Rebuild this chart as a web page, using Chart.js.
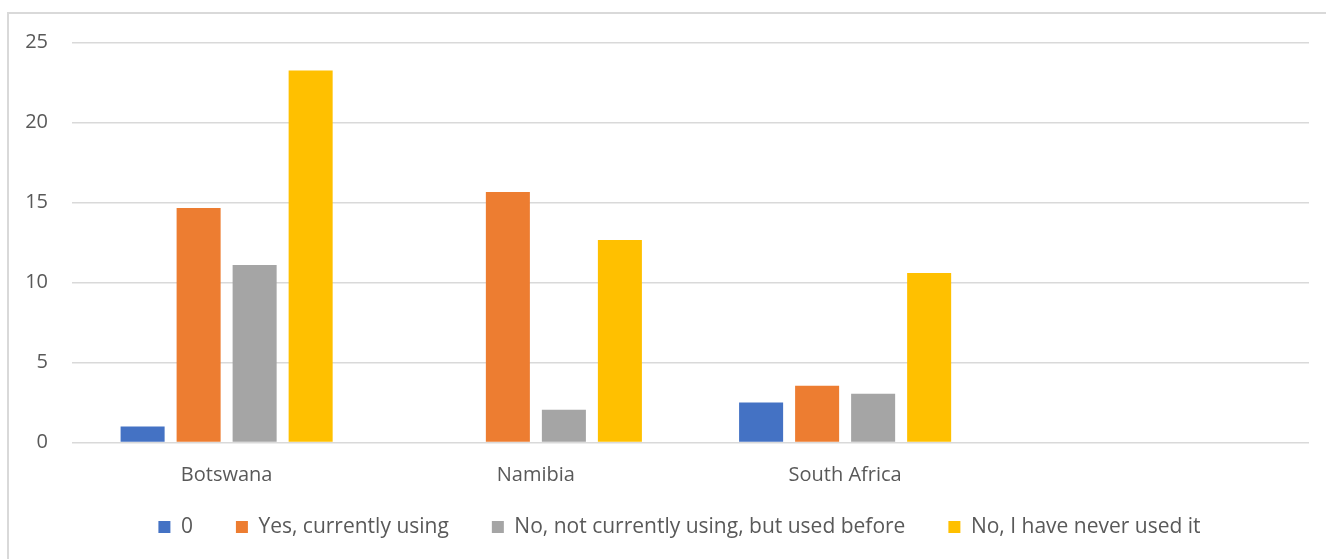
<!DOCTYPE html>
<html>
<head>
<meta charset="utf-8">
<script src="https://cdn.jsdelivr.net/npm/chart.js@4/dist/chart.umd.min.js"></script>
<style>
  html, body { margin: 0; padding: 0; background: #fff; overflow: hidden; }
  #frame {
    position: absolute; left: 7px; top: 12px;
    width: 1400px; height: 700px;
    border: 2px solid #d9d9d9; box-sizing: border-box;
  }
  #grafico { position: absolute; left: 0; top: 0; }
</style>
</head>
<body>
<div id="frame"></div>
<canvas id="grafico" width="1326" height="559"></canvas>
<script>
// Países (a quarta categoria fica vazia)
const paises = ['Botswana', 'Namibia', 'South Africa', ''];

// Respostas por país
const serieZero = [1, 0, 2.5, null];
const serieUsandoAgora = [14.65, 15.65, 3.55, null];
const serieUsouAntes = [11.1, 2.05, 3.05, null];
const serieNuncaUsou = [23.25, 12.65, 10.6, null];

const nomesSeries = [
  '0',
  'Yes, currently using',
  'No, not currently using, but used before',
  'No, I have never used it'
];
const cores = ['#4472C4', '#ED7D31', '#A5A5A5', '#FFC000'];

const ticksY = { min: 0, max: 25, passo: 5 };

const corTexto = '#595959';
const familia = "'Open Sans', 'Noto Sans', sans-serif";
const fonteEixo = { family: familia, size: 20 };
const fonteLegenda = { family: familia, size: 21 };

const valores = [serieZero, serieUsandoAgora, serieUsouAntes, serieNuncaUsou];

const datasets = valores.map((dados, i) => ({
  label: nomesSeries[i],
  data: dados,
  backgroundColor: cores[i],
  borderWidth: 0,
  categoryPercentage: 0.7245,
  barPercentage: 0.786
}));

// Ajusta a legenda depois do layout: desloca para a direita e
// libera espaço para os rótulos do eixo x (que são recortados pela caixa do eixo)
const ajusteLegenda = {
  id: 'ajusteLegenda',
  afterLayout(chart) {
    const leg = chart.legend;
    leg.left += 15;
    leg.right += 15;
    chart.scales.x.bottom = leg.top + 40;
  }
};

const ctx = document.getElementById('grafico').getContext('2d');
new Chart(ctx, {
  type: 'bar',
  data: { labels: paises, datasets: datasets },
  plugins: [ajusteLegenda],
  options: {
    responsive: false,
    animation: false,
    devicePixelRatio: 1,
    layout: {
      padding: { left: 20, right: 17, top: 42.5, bottom: 11.5 }
    },
    plugins: {
      tooltip: { enabled: false },
      legend: {
        position: 'bottom',
        labels: {
          color: corTexto,
          font: fonteLegenda,
          boxWidth: 12,
          boxHeight: 12,
          padding: 43
        }
      }
    },
    scales: {
      x: {
        grid: { display: false, drawTicks: false },
        border: { display: false },
        ticks: { color: corTexto, font: fonteEixo, padding: 21 },
        afterFit: (escala) => { escala.height = 31; }
      },
      y: {
        min: ticksY.min,
        max: ticksY.max,
        grid: { color: '#d9d9d9', lineWidth: 1.5, drawTicks: false },
        border: { display: false },
        ticks: { stepSize: ticksY.passo, color: corTexto, font: fonteEixo, padding: 24 },
        afterFit: (escala) => { escala.width = 52; }
      }
    }
  }
});
</script>
</body>
</html>
